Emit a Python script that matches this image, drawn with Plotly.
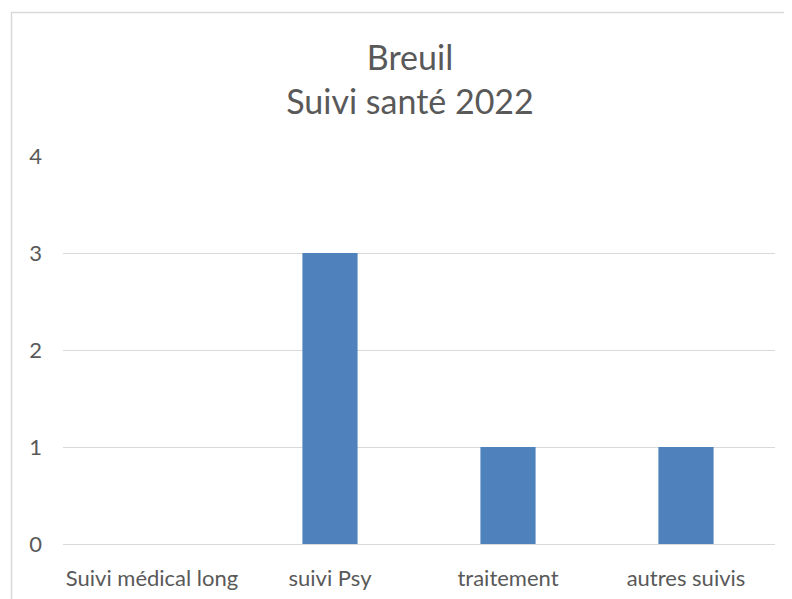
import plotly.graph_objects as go

categories = ["Suivi médical long", "suivi Psy", "traitement", "autres suivis"]
values = [0, 3, 1, 1]
y_ticks = [0, 1, 2, 3, 4]

W, H = 792, 599
OFF = 8  # page body margin
pw, ph = 712, 388
L, T = 63 - OFF, 156 - OFF
R, B = W - L - pw, H - T - ph

fig = go.Figure()
fig.add_trace(go.Bar(x=categories, y=values, marker_color="#4F81BD",
                     marker_line_width=0, width=0.31))

fig.update_layout(
    width=W, height=H,
    margin=dict(l=L, r=R, t=T, b=B),
    plot_bgcolor="white", paper_bgcolor="white",
    font=dict(family="Lato, Carlito, Calibri, sans-serif", color="#595959", size=22),
    showlegend=False,
    title=dict(text="Breuil<br>Suivi santé 2022", x=(410 - OFF) / W, xanchor="center",
               y=1 - (70 - OFF) / H, yanchor="top",
               font=dict(size=34, color="#595959")),
    shapes=[dict(type="rect", xref="paper", yref="paper",
                 x0=(11.5 - 63) / pw, x1=1.3,
                 y0=-0.5, y1=(544 - 12.5) / ph,
                 line=dict(color="#D9D9D9", width=1.5), layer="below")],
)
fig.update_yaxes(range=[0, 4], tickvals=y_ticks, showgrid=True, gridcolor="#D9D9D9",
                 gridwidth=1, zeroline=False, showline=False, ticks="",
                 ticklabelstandoff=20)
fig.update_xaxes(showline=True, linecolor="#D9D9D9", linewidth=1, ticks="",
                 ticklabelstandoff=15)

fig.write_html("out.html")
